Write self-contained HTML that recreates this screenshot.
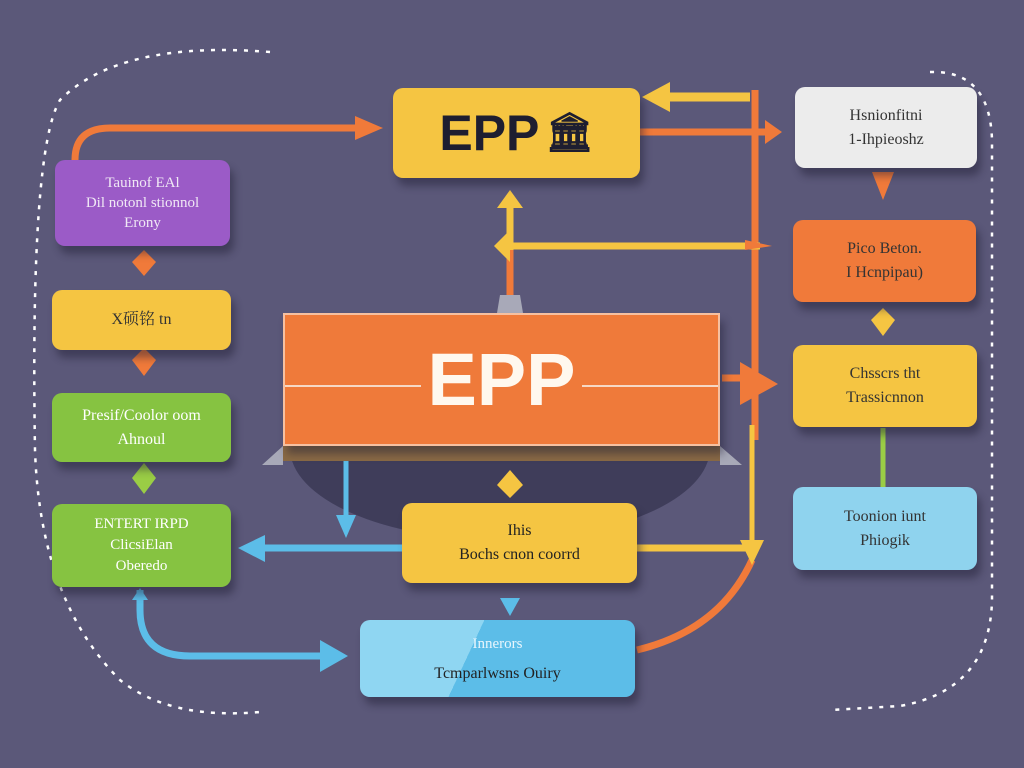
<!DOCTYPE html>
<html><head><meta charset="utf-8"><style>
html,body{margin:0;padding:0;width:1024px;height:768px;overflow:hidden;background:#5b5879}
.b{position:absolute;border-radius:10px;box-shadow:4px 8px 8px rgba(30,28,50,.45);display:flex;flex-direction:column;align-items:center;justify-content:center;text-align:center;font-family:"Liberation Serif","Noto Serif CJK SC",serif;font-size:16px;line-height:24px}
svg{position:absolute;left:0;top:0}
</style></head><body>
<svg width="1024" height="768">
<g fill="none" stroke="#fff" stroke-width="2.5" stroke-dasharray="4 7">
<path d="M270 52 Q120 40 60 100 Q30 150 35 450 Q40 600 120 680 Q170 720 260 712"/>
<path d="M930 72 Q990 70 992 140 L992 600 Q990 690 900 706 L830 710"/>
</g>
<ellipse cx="500" cy="448" rx="210" ry="92" fill="#3f3d5a"/>
<rect x="283" y="446" width="437" height="15" fill="#8a6a45"/>
<polygon points="283,446 262,465 283,465" fill="#a8a9b8"/>
<polygon points="720,446 742,465 720,465" fill="#a8a9b8"/>
<polygon points="500,295 520,295 523,313 497,313" fill="#a8a9b8"/>
<g fill="none" stroke-width="7">
<path d="M75 160 Q75 128 110 128 L360 128" stroke="#f07a3a"/>
<path d="M755 90 L755 440" stroke="#f07a3a"/>
<path d="M640 132 L765 132" stroke="#f07a3a"/>
<path d="M750 97 L660 97" stroke="#f5c542" stroke-width="9"/>
<path d="M510 295 L510 250" stroke="#f07a3a"/>
<path d="M510 250 L510 200" stroke="#f5c542"/>
<path d="M510 246 L760 246" stroke="#f5c542"/>
<path d="M722 378 L755 378" stroke="#f07a3a"/>
<path d="M752 425 L752 540" stroke="#f5c542" stroke-width="5"/>
<path d="M637 548 L752 548" stroke="#f5c542"/>
<path d="M637 650 Q720 630 752 560" stroke="#f07a3a"/>
<path d="M346 461 L346 525" stroke="#5cbde8" stroke-width="5"/>
<path d="M402 548 L260 548" stroke="#5cbde8"/>
<path d="M140 590 L140 610 Q140 656 190 656 L330 656" stroke="#5cbde8"/>
<path d="M883 428 L883 488" stroke="#9acd45" stroke-width="5"/>
</g>
<g fill="#f07a3a">
<polygon points="355,116 383,128 355,140"/>
<polygon points="765,120 782,132 765,144"/>
<polygon points="745,250 772,246 745,240"/>
<polygon points="740,362 778,384 740,405"/>
<polygon points="872,172 894,172 883,200"/>
<polygon points="132,262 144,250 156,262 144,276"/>
<polygon points="132,360 144,348 156,360 144,376"/>
</g>
<g fill="#f5c542">
<polygon points="670,82 642,97 670,112"/>
<polygon points="497,208 510,190 523,208"/>
<polygon points="494,246 510,230 510,262"/>
<polygon points="740,540 764,540 752,565"/>
<polygon points="497,485 510,470 523,485 510,498"/>
<polygon points="871,320 883,308 895,320 883,336"/>
</g>
<g fill="#5cbde8">
<polygon points="336,515 356,515 346,538"/>
<polygon points="265,535 238,548 265,562"/>
<polygon points="320,640 348,656 320,672"/>
<polygon points="132,600 140,588 148,600"/>
<polygon points="500,598 520,598 510,616"/>
</g>
<polygon points="132,478 144,463 156,478 144,494" fill="#9acd45"/>
</svg>

<div class="b" style="left:393px;top:88px;width:247px;height:90px;background:#f5c542;flex-direction:row;font-family:'Liberation Sans',sans-serif;font-weight:bold;font-size:50px;color:#1e1e30">EPP<span style="font-size:38px;margin-left:6px">🏛</span></div>
<div class="b" style="left:795px;top:87px;width:182px;height:81px;background:#ececec;color:#333">Hsnionfitni<br>1-Ihpieoshz</div>
<div class="b" style="left:793px;top:220px;width:183px;height:82px;background:#f07a3a;color:#333">Pico Beton.<br>I Hcnpipau)</div>
<div class="b" style="left:793px;top:345px;width:184px;height:82px;background:#f5c542;color:#333">Chsscrs tht<br>Trassicnnon</div>
<div class="b" style="left:793px;top:487px;width:184px;height:83px;background:#8fd3ee;color:#333">Toonion iunt<br>Phiogik</div>
<div class="b" style="left:55px;top:160px;width:175px;height:86px;background:#9b5bc7;color:#f0e8f5;font-size:15px;line-height:20px">Tauinof EAl<br>Dil notonl stionnol<br>Erony</div>
<div class="b" style="left:52px;top:290px;width:179px;height:60px;background:#f5c542;color:#333">X硕铭 tn</div>
<div class="b" style="left:52px;top:393px;width:179px;height:69px;background:#86c341;color:#fff">Presif/Coolor oom<br>Ahnoul</div>
<div class="b" style="left:52px;top:504px;width:179px;height:83px;background:#86c341;color:#fff;font-size:15px;line-height:21px">ENTERT IRPD<br>ClicsiElan<br>Oberedo</div>
<div class="b" style="left:283px;top:313px;width:437px;height:133px;background:#ef7a3a;border:2px solid #f6c0a0;box-sizing:border-box;border-radius:0;color:#fff8ee;font-family:'Liberation Sans',sans-serif;font-weight:bold;font-size:74px">
<div style="position:absolute;left:0;right:0;top:70px;height:2px;background:#f6d8c4"></div><span style="position:relative;background:#ef7a3a;padding:0 6px">EPP</span></div>
<div class="b" style="left:402px;top:503px;width:235px;height:80px;background:#f5c542;color:#222">Ihis<br>Bochs cnon coorrd</div>
<div class="b" style="left:360px;top:620px;width:275px;height:77px;background:linear-gradient(115deg,#8fd6f2 0 40%,#5cbde8 40%);color:#222;line-height:30px"><span style="color:#e8f6fd;font-size:15px">Innerors</span>Tcmparlwsns Ouiry</div>
</body></html>
